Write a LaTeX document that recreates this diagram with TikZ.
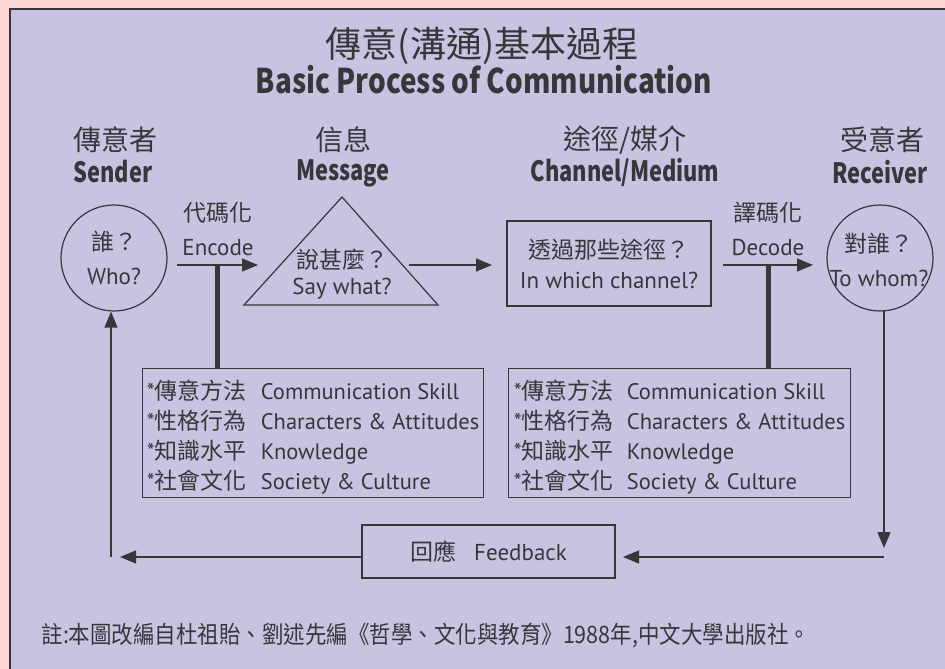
\documentclass[tikz,border=0pt]{standalone}
\usepackage{fontspec}
\setmainfont{PT Sans}
\newfontfamily\zh{Noto Sans CJK TC}
\newfontfamily\condfont[FakeStretch=0.895]{Noto Sans CJK TC}
\newfontfamily\headfont[FakeStretch=0.78]{Noto Sans CJK TC}
\newfontfamily\titlefont[FakeStretch=0.82]{Noto Sans CJK TC}
\usetikzlibrary{arrows.meta,positioning}

\definecolor{pagepink}{RGB}{253,214,212}
\definecolor{panelblue}{RGB}{199,196,226}
\definecolor{ink}{RGB}{58,53,58}

\newcommand{\attr}[2]{\makebox[113pt][l]{*{\zh\fontsize{23}{30}\selectfont #1}}#2}

\tikzset{
  flow/.style={draw=ink, line width=1.3pt, -{Triangle[length=16pt,width=13pt]}},
  link/.style={draw=ink, line width=5pt},
  actor/.style={circle, draw=ink, line width=1.2pt, minimum size=106pt, inner sep=0pt},
  frame/.style={rectangle, draw=ink, line width=1.2pt},
  body/.style={text=ink, align=center, font=\fontsize{23}{34}\selectfont},
  boxtext/.style={text=ink, align=left, font=\fontsize{22.5}{30}\selectfont}
}

\begin{document}
\begin{tikzpicture}[x=1pt,y=-1pt]

        \useasboundingbox (0,0) rectangle (945,669);
        \clip (0,0) rectangle (945,669);
        \fill[pagepink] (0,0) rectangle (945,669);
        \draw[fill=panelblue, draw=ink, line width=2pt] (10,9) rectangle (990,720);

        % title
        \begin{scope}[every node/.style={text=ink}]
          \node (titleZh) at (482,46) {\zh\fontsize{36}{36}\selectfont 傳意(溝通)基本過程};
          \node (titleEn) at (484,80) {\titlefont\bfseries\fontsize{34}{34}\selectfont Basic Process of Communication};
        \end{scope}

        % column heads
        \begin{scope}[every node/.style={text=ink, font=\zh\fontsize{28}{28}\selectfont}]
          \node (sndZh)  at (115,140) {傳意者};
          \node (msgZh)  at (343,140) {信息};
          \node (chnZh)  at (625,140) {途徑/媒介};
          \node (rcvZh)  at (882,140) {受意者};
        \end{scope}
        \begin{scope}[every node/.style={text=ink, font=\headfont\bfseries\fontsize{28}{28}\selectfont}]
          \node (sndEn)  at (113,172) {Sender};
          \node (msgEn)  at (343,173) {Message};
          \node (chnEn)  at (625,172) {Channel/Medium};
          \node (rcvEn)  at (880,172) {Receiver};
        \end{scope}

        % who, what, channel, whom
        \node[actor] (who)  at (114,258) {};
        \node[actor] (whom) at (880,258) {};
        \node[body] (whoT)  at (who)       {{\zh 誰？}\\Who?};
        \node[body] (whomT) at (879,260)   {{\zh 對誰？}\\To whom?};

        \coordinate (msgL) at (244,305);
        \coordinate (msgT) at (342,197);
        \coordinate (msgR) at (438,305);
        \draw[ink, line width=1.2pt] (msgL) -- (msgT) -- (msgR) -- cycle;
        \node[body, font=\fontsize{23}{26}\selectfont] (msgT2) at (342,274) {{\zh 說甚麼？}\\Say what?};

        \node[frame, body, font=\fontsize{23}{30}\selectfont, minimum width=204pt, minimum height=85pt] (chan) at (609,263.5) {{\zh 透過那些途徑？}\\In which channel?};

        % encode / decode
        \node[body] (encT) at (218,229) {{\zh 代碼化}\\Encode};
        \node[body] (decT) at (768,229) {{\zh 譯碼化}\\Decode};

        % factor boxes
        \begin{scope}[every node/.style={frame, boxtext, anchor=north west, minimum height=129pt}]
          \node[minimum width=341pt] (skillS) at (142,368)
            {\rule{0pt}{27pt}\attr{傳意方法}{\hspace{1pt}Communication Skill}\\
             \attr{性格行為}{\hspace{1pt}Characters \& Attitudes}\\
             \attr{知識水平}{\hspace{1pt}Knowledge}\\
             \attr{社會文化}{\hspace{1pt}Society \& Culture}};
          \node[minimum width=342pt] (skillR) at (508,368)
            {\rule{0pt}{27pt}\attr{傳意方法}{Communication Skill}\\
             \attr{性格行為}{Characters \& Attitudes}\\
             \attr{知識水平}{Knowledge}\\
             \attr{社會文化}{Society \& Culture}};
        \end{scope}

        % feedback
        \node[frame, body, minimum width=253pt, minimum height=53pt] (fb) at (488.5,551.5) {{\zh 回應}\hspace{18pt}Feedback};

        % connectors
        \coordinate (encS) at (177,265);
        \coordinate (encE) at (258,265);
        \coordinate (encM) at (217.5,265);
        \coordinate (msgO) at (409,265);
        \coordinate (chnI) at (492,265);
        \coordinate (decS) at (723,265);
        \coordinate (decE) at (813,265);
        \coordinate (decM) at (768,265);
        \coordinate (rcvO) at (884,311);
        \coordinate (rcvD) at (884,548);
        \coordinate (fbS)  at (884,557);
        \coordinate (fbI)  at (623,557);
        \coordinate (fbO)  at (362,557);
        \coordinate (retE) at (120,557);
        \coordinate (retB) at (111,557);

        \draw[flow] (encS) -- (encE);
        \draw[link] (encM) -- (encM |- skillS.north);
        \draw[flow] (msgO) -- (chnI);
        \draw[flow] (decS) -- (decE);
        \draw[link] (decM) -- (decM |- skillR.north);
        \draw[flow] (rcvO) -- (rcvD);
        \draw[flow] (fbS) -- (fbI);
        \draw[flow] (fbO) -- (retE);
        \draw[flow] (retB) -- (retB |- who.south);

        % note
        \node[text=ink, anchor=west, font=\condfont\fontsize{24}{24}\selectfont] (note) at (38,636)
          {註:本圖改編自杜祖貽、劉述先編《哲學、文化與教育》1988年,中文大學出版社。};

      \end{tikzpicture}
\end{document}
